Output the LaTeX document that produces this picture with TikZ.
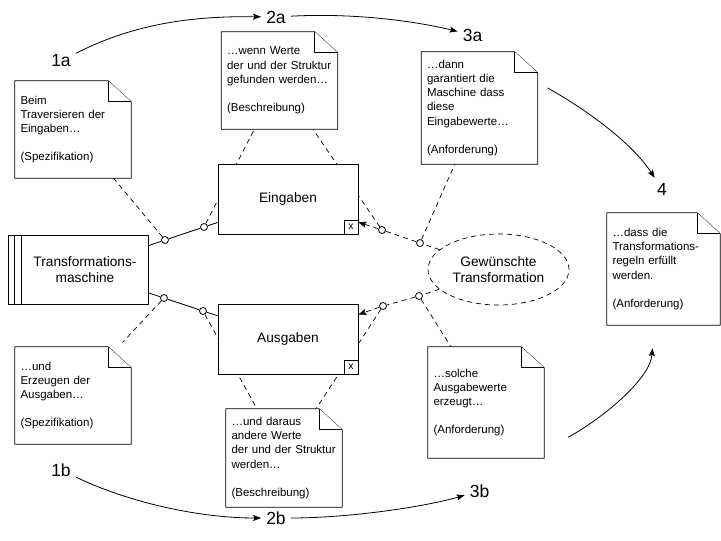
\documentclass[tikz,border=0pt]{standalone}
\usepackage{fontspec}
\setmainfont{Liberation Sans}
\usetikzlibrary{arrows.meta,backgrounds,shapes.geometric}
\begin{document}
\begin{tikzpicture}[x=1pt,y=-1pt,
  note/.style={rectangle, inner xsep=5.5pt, inner ysep=0pt, minimum width=116pt, text width=105pt,
    minimum height=97pt, align=left, font=\fontsize{11.5}{14.2}\selectfont},
  notetall/.style={note, minimum height=112pt},
  notebody/.style={draw, fill=white, line width=0.8pt, line join=round},
  box/.style={draw, fill=white, line width=0.8pt, minimum width=140pt, minimum height=70pt,
    inner sep=0pt, align=center, font=\fontsize{13.7}{16}\selectfont},
  xbox/.style={draw, fill=white, line width=0.8pt, minimum size=14pt, inner sep=0pt,
    font=\fontsize{10.5}{12}\selectfont},
  dot/.style={circle, draw, fill=white, line width=0.8pt, minimum size=7pt, inner sep=0pt},
  numlabel/.style={inner sep=5pt, font=\fontsize{17.5}{20}\selectfont},
  dashline/.style={line width=0.7pt, dash pattern=on 5pt off 4pt},
  solidline/.style={line width=0.8pt},
  tip/.style={-{Stealth[length=8pt,width=6pt,inset=1.5pt]}},
  flow/.style={line width=0.8pt, tip},
]
\useasboundingbox (0,0) rectangle (721,541);

% main boxes
\node[box, minimum height=69pt] (mach) at (78,269.5) {\hspace*{14pt}Transformations-\\\hspace*{14pt}maschine};
\draw[solidline] ([xshift=7pt]mach.north west) -- ([xshift=7pt]mach.south west);
\draw[solidline] ([xshift=14pt]mach.north west) -- ([xshift=14pt]mach.south west);

\node[box] (ein) at (288,199) {Eingaben};
\node[xbox, anchor=south east] (einx) at (ein.south east) {x};
\node[box] (aus) at (288,339) {Ausgaben};
\node[xbox, anchor=south east] (ausx) at (aus.south east) {x};

\node[ellipse, draw, fill=white, dashline, minimum width=141pt, minimum height=71pt, inner sep=0pt,
  align=center, font=\fontsize{13.7}{15.5}\selectfont] (ell) at (498.5,269.5) {Gewünschte\\Transformation};

% notes (text)
\node[note] (n1a) at (73,129.5) {Beim\\Traversieren der\\Eingaben…\\[14.2pt](Spezifikation)};
\node[note] (n2a) at (279.5,80.5) {…wenn Werte\\der und der Struktur\\gefunden werden…\\[14.2pt](Beschreibung)};
\node[notetall] (n3a) at (479.5,108) {…dann\\garantiert die\\Maschine dass\\diese\\Eingabewerte…\\[14.2pt](Anforderung)};
\node[notetall, minimum width=113pt, text width=102pt] (n4) at (663.5,269) {…dass die\\Transformations-\\regeln erfüllt\\werden.\\[14.2pt](Anforderung)};
\node[note] (n1b) at (73,395.5) {…und\\Erzeugen der\\Ausgaben…\\[14.2pt](Spezifikation)};
\node[note, minimum height=98pt] (n2b) at (284,458) {…und daraus\\andere Werte\\der und der Struktur\\werden…\\[14.2pt](Beschreibung)};
\node[note, minimum height=111pt] (n3b) at (486,402.5) {…solche\\Ausgabewerte\\erzeugt…\\[14.2pt](Anforderung)};

% small circles
\node[dot] (c1) at (165,240) {};
\node[dot] (c2) at (204,227) {};
\node[dot] (c3) at (164,298) {};
\node[dot] (c4) at (203,311) {};
\node[dot] (c5) at (382,230) {};
\node[dot] (c6) at (420,243) {};
\node[dot] (c7) at (419,296) {};
\node[dot] (c8) at (383,306) {};

% step labels
\node[numlabel] (l1a) at (61,61) {1a};
\node[numlabel] (l2a) at (276,17) {2a};
\node[numlabel] (l3a) at (472.5,35) {3a};
\node[numlabel] (l4) at (662,189) {4};
\node[numlabel] (l1b) at (61,470) {1b};
\node[numlabel] (l2b) at (276,518) {2b};
\node[numlabel] (l3b) at (479.5,491) {3b};

\begin{pgfonlayer}{background}
  % solid links machine -> boxes
  \draw[solidline] (mach) -- (c1) -- (c2) -- (ein);
  \draw[solidline] (mach) -- (c3) -- (c4) -- (aus);
  % dashed links
  \draw[dashline] (c1) -- (n1a);
  \draw[dashline] (c2) -- (n2a);
  \draw[dashline] (c5) -- (n2a);
  \draw[dashline] (c6) -- (n3a);
  \draw[dashline] (ell) -- (c6) -- (c5);
  \draw[dashline, tip] (c5) -- (ein);
  \draw[dashline, shorten >=6pt] (c3) -- (n1b);
  \draw[dashline] (c4) -- (n2b);
  \draw[dashline] (c8) -- (n2b);
  \draw[dashline] (c7) -- (n3b);
  \draw[dashline] (ell) -- (c7) -- (c8);
  \draw[dashline, tip] (c8) -- (aus);
  % note outlines with folded corner
  \foreach \n in {n1a,n2a,n3a,n4,n1b,n2b,n3b}{
    \draw[notebody] (\n.south west) -- (\n.north west) -- ([xshift=-23pt]\n.north east)
      -- ([yshift=-21pt]\n.north east) -- (\n.south east) -- cycle;
    \draw[notebody] ([xshift=-23pt]\n.north east) -- ([xshift=-23pt,yshift=-21pt]\n.north east)
      -- ([yshift=-21pt]\n.north east);
  }
\end{pgfonlayer}

% flow arcs
\draw[flow] (l1a) .. controls (137,22) and (198,16) .. (l2a);
\draw[flow] (l2a) .. controls (350,13) and (410,20) .. (l3a);
\draw[flow] ([shift={(10pt,20pt)}]n3a.east) .. controls (580,106) and (630,140) .. (l4);
\draw[flow] ([shift={(24pt,21pt)}]n3b.south east) .. controls (600,420) and (650,380) .. ([shift={(-11pt,-23pt)}]n4.south);
\draw[flow] (l1b) .. controls (130,503) and (200,518) .. (l2b);
\draw[flow] (l2b) .. controls (345,518) and (420,508) .. (l3b);
\end{tikzpicture}
\end{document}
